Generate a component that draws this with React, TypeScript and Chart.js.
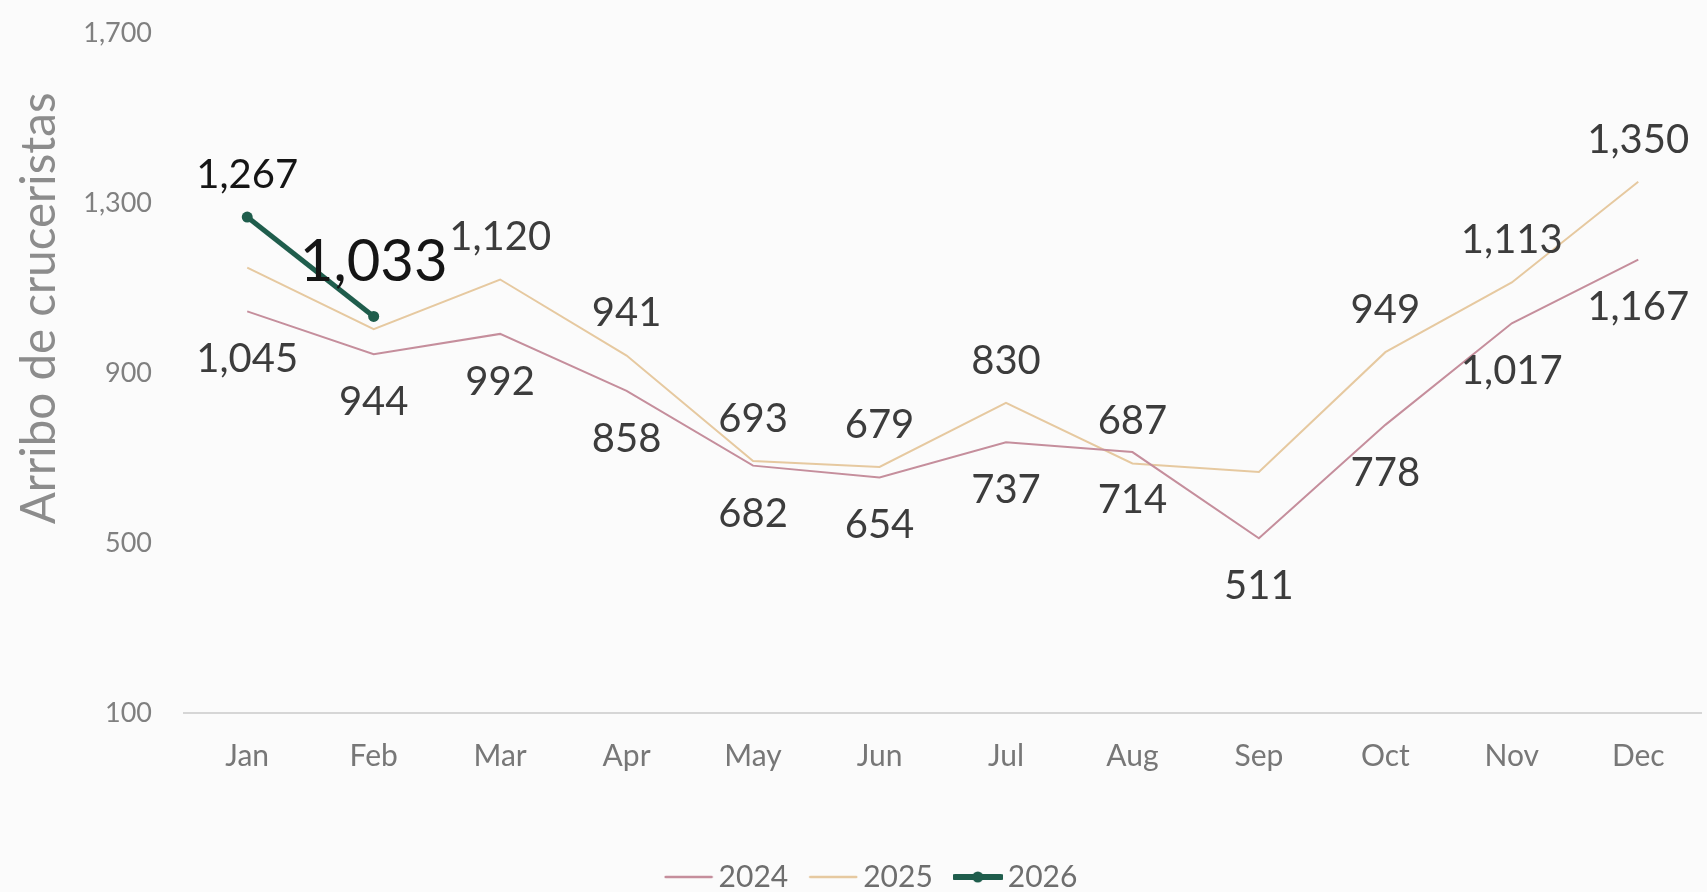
import React, { useEffect, useRef } from "react";
import { Chart, registerables } from "chart.js";

Chart.register(...registerables);

const months = ["Jan", "Feb", "Mar", "Apr", "May", "Jun", "Jul", "Aug", "Sep", "Oct", "Nov", "Dec"];
const values2024 = [1045, 944, 992, 858, 682, 654, 737, 714, 511, 778, 1017, 1167];
const values2025 = [1148, 1003, 1120, 941, 693, 679, 830, 687, 667, 949, 1113, 1350];
const values2026 = [1267, 1033];
const seriesNames = ["2024", "2025", "2026"];
const yMin = 100;
const yMax = 1700;
const yStep = 400;
const hiddenLabels2025 = ["Jan", "Feb", "Sep"];
const yTitle = "Arribo de cruceristas";

const COLORS = ["#c58e9c", "#e6c9a0", "#1f5d4c"];
const FONT = "Lato, 'Noto Sans', sans-serif";

const fmt = (v: number) => v.toLocaleString("en-US");

function legendSample(color: string, lineWidth: number, dot: boolean) {
  const c = document.createElement("canvas");
  c.width = 50;
  c.height = 14;
  const g = c.getContext("2d")!;
  g.strokeStyle = color;
  g.lineWidth = lineWidth;
  g.lineCap = "round";
  g.beginPath();
  g.moveTo(2, 7);
  g.lineTo(48, 7);
  g.stroke();
  if (dot) {
    g.fillStyle = color;
    g.beginPath();
    g.arc(25, 7, 5.5, 0, Math.PI * 2);
    g.fill();
  }
  return c;
}

const dataLabelPlugin = {
  id: "dataLabels",
  afterDatasetsDraw(chart: any) {
    const ctx = chart.ctx;
    ctx.save();
    ctx.textAlign = "center";
    ctx.textBaseline = "middle";
    chart.data.datasets.forEach((ds: any, di: number) => {
      const meta = chart.getDatasetMeta(di);
      meta.data.forEach((el: any, i: number) => {
        const v = ds.data[i];
        if (v == null) return;
        const label = chart.data.labels[i];
        let offset = 0;
        let size = 40;
        let color = "#3c3c3c";
        if (di === 0) {
          offset = 48;
        } else if (di === 1) {
          if (hiddenLabels2025.includes(label)) return;
          offset = -42;
        } else {
          color = "#151515";
          if (i === ds.data.length - 1) {
            size = 58;
            offset = -54;
          } else {
            offset = -42;
          }
        }
        ctx.font = `${size}px ${FONT}`;
        ctx.fillStyle = color;
        ctx.fillText(fmt(v), el.x, el.y + offset);
      });
    });
    ctx.restore();
  },
};

const yTitlePlugin = {
  id: "yTitle",
  afterDraw(chart: any) {
    const ctx = chart.ctx;
    const a = chart.chartArea;
    ctx.save();
    ctx.translate(40, a.top + (a.bottom - a.top) * 0.405);
    ctx.rotate(-Math.PI / 2);
    ctx.textAlign = "center";
    ctx.textBaseline = "middle";
    ctx.font = `47.5px ${FONT}`;
    ctx.fillStyle = "#8c8c8c";
    ctx.fillText(yTitle, 0, 0);
    ctx.restore();
  },
};

const legendShiftPlugin = {
  id: "legendShift",
  afterLayout(chart: any) {
    if (chart.legend) {
      chart.legend.left += 22;
      chart.legend.right += 22;
    }
  },
};

export default function App() {
  const ref = useRef<HTMLCanvasElement>(null);

  useEffect(() => {
    if (!ref.current) return;
    const samples = [
      legendSample(COLORS[0], 2.5, false),
      legendSample(COLORS[1], 2.5, false),
      legendSample(COLORS[2], 6, true),
    ];
    const chart = new Chart(ref.current, {
      type: "line",
      data: {
        labels: months,
        datasets: [
          {
            label: seriesNames[0],
            data: values2024,
            borderColor: COLORS[0],
            backgroundColor: COLORS[0],
            borderWidth: 2,
            pointRadius: 0,
            tension: 0,
          },
          {
            label: seriesNames[1],
            data: values2025,
            borderColor: COLORS[1],
            backgroundColor: COLORS[1],
            borderWidth: 2,
            pointRadius: 0,
            tension: 0,
          },
          {
            label: seriesNames[2],
            data: values2026,
            borderColor: COLORS[2],
            backgroundColor: COLORS[2],
            borderWidth: 5,
            pointRadius: 5.5,
            pointBorderWidth: 0,
            pointBackgroundColor: COLORS[2],
            tension: 0,
          },
        ],
      },
      options: {
        animation: false,
        responsive: true,
        maintainAspectRatio: false,
        layout: { padding: { top: 33, right: 0, left: 0, bottom: -10 } },
        plugins: {
          tooltip: { enabled: false },
          legend: {
            position: "bottom",
            labels: {
              usePointStyle: true,
              pointStyleWidth: 30,
              padding: 30,
              color: "#6e6e6e",
              font: { size: 30, family: FONT },
              generateLabels: (c: any) => {
                const items = (Chart.defaults.plugins.legend.labels as any).generateLabels(c);
                items.forEach((it: any, i: number) => {
                  it.pointStyle = samples[i];
                });
                return items;
              },
            },
          },
        },
        scales: {
          x: {
            offset: true,
            grid: { display: false, drawTicks: false },
            border: { display: true, color: "#d6d6d6", width: 2 },
            ticks: {
              color: "#777777",
              padding: 25,
              font: { size: 30, family: FONT },
              maxRotation: 0,
            },
            afterFit: (s: any) => {
              s.height = 119;
              s.paddingLeft = 0;
              s.paddingRight = 0;
            },
          },
          y: {
            min: yMin,
            max: yMax,
            grid: { display: false, drawTicks: false },
            border: { display: false },
            ticks: {
              stepSize: yStep,
              color: "#808080",
              padding: 32,
              font: { size: 27, family: FONT },
              callback: (v: any) => fmt(Number(v)),
            },
            afterFit: (s: any) => {
              s.width = 184;
              s.paddingTop = 0;
              s.paddingBottom = 0;
            },
          },
        },
      },
      plugins: [dataLabelPlugin, yTitlePlugin, legendShiftPlugin],
    } as any);
    return () => chart.destroy();
  }, []);

  return (
    <div
      style={{
        position: "absolute",
        left: 0,
        top: 0,
        width: 1707,
        height: 892,
        background: "#fbfbfb",
      }}
    >
      <canvas ref={ref} />
    </div>
  );
}
